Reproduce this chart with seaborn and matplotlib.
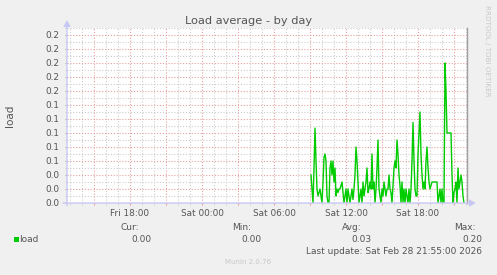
import matplotlib
matplotlib.use("Agg")
import matplotlib.pyplot as plt
import matplotlib.dates as mdates
import matplotlib.ticker as mticker
from matplotlib.patches import Rectangle
import pandas as pd
import seaborn as sns

# ---------------- data ----------------
series_name = "load"
start_time = "2026-02-28 09:05"
step = "5min"
load_values = [
    0.04, 0.02, 0.00, 0.05, 0.107, 0.06, 0.02, 0.01, 0.015, 0.02,
    0.01, 0.00, 0.03, 0.065, 0.07, 0.06, 0.01, 0.00, 0.00, 0.05,
    0.06, 0.04, 0.06, 0.03, 0.05, 0.01, 0.02, 0.015, 0.02, 0.02,
    0.025, 0.03, 0.015, 0.00, 0.01, 0.02, 0.00, 0.02, 0.01, 0.00,
    0.01, 0.02, 0.005, 0.02, 0.04, 0.08, 0.06, 0.03, 0.00, 0.01,
    0.02, 0.00, 0.03, 0.01, 0.02, 0.03, 0.05, 0.015, 0.02, 0.03,
    0.02, 0.07, 0.02, 0.03, 0.00, 0.02, 0.05, 0.09, 0.02, 0.01,
    0.00, 0.02, 0.01, 0.03, 0.02, 0.01, 0.02, 0.02, 0.04, 0.02,
    0.015, 0.00, 0.025, 0.05, 0.06, 0.05, 0.09, 0.07, 0.04, 0.025,
    0.00, 0.03, 0.00, 0.02, 0.00, 0.02, 0.01, 0.00, 0.02, 0.00,
    0.02, 0.06, 0.115, 0.06, 0.02, 0.01, 0.01, 0.07, 0.10, 0.13,
    0.07, 0.04, 0.02, 0.03, 0.02, 0.06, 0.08, 0.05, 0.03, 0.02,
    0.025, 0.03, 0.03, 0.03, 0.03, 0.03, 0.03, 0.00, 0.01, 0.02,
    0.00, 0.02, 0.00, 0.00, 0.20, 0.16, 0.10, 0.10, 0.10, 0.10,
    0.10, 0.04, 0.00, 0.015, 0.02, 0.03, 0.00, 0.05, 0.02, 0.03,
    0.04, 0.03, 0.01, 0.00,
]
view_start = "2026-02-27 12:45"
view_end = "2026-02-28 22:05"
title = "Load average - by day"
legend_headers = ["Cur:", "Min:", "Avg:", "Max:"]
legend_values = ["0.00", "0.00", "0.03", "0.20"]
last_update = "Last update: Sat Feb 28 21:55:00 2026"
footer = "Munin 2.0.76"
side_text = "RRDTOOL / TOBI OETIKER"

df = pd.DataFrame({
    "time": pd.date_range(start_time, periods=len(load_values), freq=step),
    "load": load_values,
})

# ---------------- figure ----------------
W, H = 497, 275
plt.rcParams["font.family"] = ["DejaVu Sans"]
fig = plt.figure(figsize=(W / 100, H / 100), dpi=100, facecolor="#F0F0F0")


def fx(x):
    return x / W


def fy(y):
    return 1 - y / H


ax = fig.add_axes([fx(67), fy(203), 400 / W, 175 / H])
ax.set_facecolor("white")

sns.lineplot(data=df, x="time", y="load", color="#00CC00", linewidth=1.0, ax=ax)

ax.set_xlim(pd.Timestamp(view_start), pd.Timestamp(view_end))
ax.set_ylim(0, 0.25)

# y ticks
ax.yaxis.set_major_locator(mticker.MultipleLocator(0.02))
ax.yaxis.set_minor_locator(mticker.MultipleLocator(0.01))
ax.yaxis.set_major_formatter(mticker.FormatStrFormatter("%.1f"))

# x ticks
ax.xaxis.set_major_locator(mdates.HourLocator(byhour=range(0, 24, 3)))
ax.xaxis.set_minor_locator(mdates.HourLocator())


def xfmt(v, pos):
    d = mdates.num2date(v)
    if d.hour % 6 == 0:
        return d.strftime("%a %H:%M")
    return ""


ax.xaxis.set_major_formatter(mticker.FuncFormatter(xfmt))

major_c = "#E4A0A0"
minor_c = "#CDCDCD"
ax.grid(which="major", color=major_c, linestyle=(0, (1, 1.6)), linewidth=0.8)
ax.grid(which="minor", color=minor_c, linestyle=(0, (1, 1.6)), linewidth=0.8)
ax.set_axisbelow(True)

ax.tick_params(axis="both", which="major", labelsize=6.4, labelcolor="#555555",
               length=1.6, width=0.8)
ax.tick_params(axis="x", which="major", color=major_c, pad=2.5)
ax.tick_params(axis="y", which="major", color="#AAAAAA", pad=4.2)
ax.tick_params(axis="both", which="minor", length=1.2, width=0.6, color=minor_c)

ax.set_xlabel("")
ax.set_ylabel(series_name, fontsize=7.5, color="#555555")
ax.yaxis.set_label_coords((15 - 67) / 400, 0.5)

ax.spines["top"].set_visible(False)
ax.spines["right"].set_color("#A0A0A0")
ax.spines["right"].set_linewidth(1.0)
ax.spines["left"].set_visible(False)
ax.spines["bottom"].set_visible(False)

axis_c = "#C8C8F4"
ax.annotate("", xy=(0, 1.045), xytext=(0, -0.015), xycoords="axes fraction",
            arrowprops=dict(arrowstyle="-|>,head_length=0.35,head_width=0.2",
                            color=axis_c, lw=1.0, shrinkA=0, shrinkB=0),
            annotation_clip=False)
ax.annotate("", xy=(1.022, 0), xytext=(-0.01, 0), xycoords="axes fraction",
            arrowprops=dict(arrowstyle="-|>,head_length=0.35,head_width=0.2",
                            color=axis_c, lw=1.0, shrinkA=0, shrinkB=0),
            annotation_clip=False)

# title
fig.text(fx(249), fy(21), title, ha="center", va="center", fontsize=8.2,
         color="#555555")

# side text
fig.text(fx(487), fy(51), side_text, rotation=270, ha="center", va="center",
         fontsize=5.1, color="#C8C8C8")

# legend area
txt = dict(fontsize=6.5, color="#555555", va="center")
fig.add_artist(Rectangle((fx(14), fy(241.5)), 5 / W, 5 / H,
                         transform=fig.transFigure, color="#00CC00", lw=0))
fig.text(fx(19.5), fy(239), series_name, ha="left", **txt)
head_x = [139, 251, 362, 476]
val_x = [152, 262, 372, 482]
for hx, vx, hd, vl in zip(head_x, val_x, legend_headers, legend_values):
    fig.text(fx(hx), fy(227), hd, ha="right", **txt)
    fig.text(fx(vx), fy(239), vl, ha="right", **txt)
fig.text(fx(482), fy(251), last_update, ha="right", **txt)
fig.text(fx(248), fy(262), footer, ha="center", va="center", fontsize=5,
         color="#C8C8C8")

fig.savefig("out.png", dpi=100, facecolor=fig.get_facecolor())
